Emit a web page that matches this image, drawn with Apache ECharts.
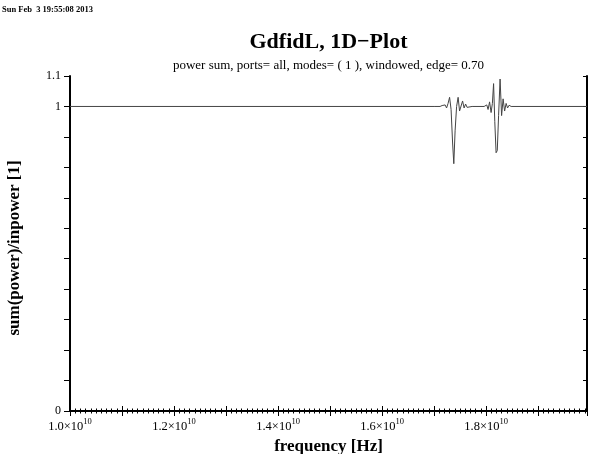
<!DOCTYPE html>
<html>
<head>
<meta charset="utf-8">
<script src="https://cdn.jsdelivr.net/npm/echarts@6/dist/echarts.min.js"></script>
<style>html,body{margin:0;padding:0;background:#fff;}#c{width:589px;height:454px;}</style>
</head>
<body>
<div id="c"></div>
<script>
// frequency in Hz
var freqs = [1.0e10, 1.70e10, 1.7115e10, 1.7154e10, 1.7183e10, 1.7212e10, 1.7240e10, 1.7269e10, 1.7298e10, 1.7327e10, 1.7356e10, 1.7379e10, 1.7404e10, 1.7433e10, 1.7462e10, 1.7490e10, 1.7519e10, 1.7548e10, 1.7577e10, 1.7606e10, 1.7635e10, 1.7673e10, 1.7731e10,
  1.7962e10, 1.8013e10, 1.8038e10, 1.8067e10, 1.8096e10, 1.8121e10, 1.8144e10, 1.8167e10, 1.8192e10, 1.8215e10, 1.8240e10, 1.8269e10, 1.8298e10, 1.8327e10, 1.8356e10, 1.8385e10, 1.8413e10, 1.8442e10, 1.8481e10, 1.994e10];
// sum(power)/inpower
var ratio = [1.0, 1.0, 1.000, 1.003, 0.997, 1.005, 0.995, 1.010, 1.030, 0.990, 0.880, 0.812, 0.920, 1.000, 1.030, 0.985, 0.990, 1.018, 0.995, 1.008, 0.997, 1.003, 1.0,
  1.0, 1.005, 0.990, 1.015, 0.980, 1.010, 1.075, 0.950, 0.848, 0.855, 0.970, 1.090, 0.970, 1.025, 0.985, 1.010, 0.995, 1.004, 1.0, 1.0];
var xMin = 1.0e10, xMax = 1.994e10, xStep = 1.0e9;
var yMin = 0, yMax = 1.1, yStep = 0.1;
var yLabels = {"0": "0", "1": "1", "1.1": "1.1"};
var titleText = "GdfidL, 1D\u2212Plot";
var subText = "power sum, ports= all, modes= ( 1 ), windowed, edge= 0.70";
var dateText = "Sun Feb  3 19:55:08 2013";
var xName = "frequency [Hz]";
var yName = "sum(power)/inpower [1]";

var serif = "Liberation Serif";
var data = freqs.map(function (f, i) { return [f, ratio[i]]; });
var chart = echarts.init(document.getElementById('c'));
var axisLine = {show: true, lineStyle: {color: '#000', width: 2}};
var plotCenter = 70 + (589 - 2 - 70) / 2;
chart.setOption({
  animation: false,
  backgroundColor: '#fff',
  graphic: [
    {type: 'text', x: plotCenter, y: 42.5, silent: true,
     style: {text: titleText, font: 'bold 22px "Liberation Serif"', fill: '#000', align: 'center', verticalAlign: 'middle'}},
    {type: 'text', x: plotCenter, y: 66, silent: true,
     style: {text: subText, font: '13px "Liberation Serif"', fill: '#000', align: 'center', verticalAlign: 'middle'}},
    {type: 'text', x: 2, y: 9.5, silent: true,
     style: {text: dateText, font: 'bold 8.5px "Liberation Serif"', fill: '#000', align: 'left', verticalAlign: 'middle'}},
    {type: 'text', x: 15, y: 248, rotation: Math.PI / 2, silent: true,
     style: {text: yName, font: 'bold 17px "Liberation Serif"', fill: '#000', align: 'center', verticalAlign: 'middle'}}
  ],
  grid: {left: 70, right: 2, top: 76, bottom: 43, containLabel: false, outerBoundsMode: 'none'},
  xAxis: [
    {type: 'value', min: xMin, max: xMax, interval: xStep, position: 'bottom',
     name: xName, nameLocation: 'middle', nameGap: 25,
     nameTextStyle: {fontFamily: serif, fontSize: 17, fontWeight: 'bold', color: '#000'},
     axisLine: axisLine,
     axisTick: {show: true, inside: true, length: 5, lineStyle: {color: '#000', width: 1}},
     minorTick: {show: true, splitNumber: 10, length: 2.5, lineStyle: {color: '#000', width: 1}},
     splitLine: {show: false},
     axisLabel: {margin: 6, color: '#000', showMaxLabel: false,
       formatter: function (v) {
         var q = (v - xMin) / xStep;
         var k = Math.round(q);
         if (Math.abs(q - k) > 1e-3 || k % 2 !== 0) return '';
         return '{b|' + (v / 1e10).toFixed(1) + '\u00d710}{s|10}';
       },
       rich: {
         b: {fontFamily: serif, fontSize: 12.5, lineHeight: 16, verticalAlign: 'bottom', color: '#000'},
         s: {fontFamily: serif, fontSize: 8.5, lineHeight: 8, verticalAlign: 'top', color: '#000'}
       }}
    },
    {type: 'value', min: xMin, max: xMax, interval: xStep, position: 'top',
     axisLine: axisLine,
     axisTick: {show: true, inside: true, length: 5, lineStyle: {color: '#000', width: 1}},
     minorTick: {show: true, splitNumber: 10, length: 2.5, lineStyle: {color: '#000', width: 1}},
     splitLine: {show: false}, axisLabel: {show: false}}
  ],
  yAxis: [
    {type: 'value', min: yMin, max: yMax, interval: yStep, position: 'left',
     axisLine: axisLine,
     axisTick: {show: true, inside: false, length: 6, lineStyle: {color: '#000', width: 1}},
     splitLine: {show: false},
     axisLabel: {margin: 9, fontFamily: serif, fontSize: 12, color: '#000',
       formatter: function (v) {
         var key = String(Math.round(v * 10) / 10);
         return yLabels[key] !== undefined ? yLabels[key] : '';
       }}
    },
    {type: 'value', min: yMin, max: yMax, interval: yStep, position: 'right',
     axisLine: axisLine,
     axisTick: {show: true, inside: true, length: 4, lineStyle: {color: '#000', width: 1}},
     splitLine: {show: false}, axisLabel: {show: false}}
  ],
  series: [{
    type: 'line', xAxisIndex: 0, yAxisIndex: 0, data: data,
    showSymbol: false, symbol: 'none',
    lineStyle: {color: '#444', width: 1}
  }]
});
</script>
</body>
</html>
